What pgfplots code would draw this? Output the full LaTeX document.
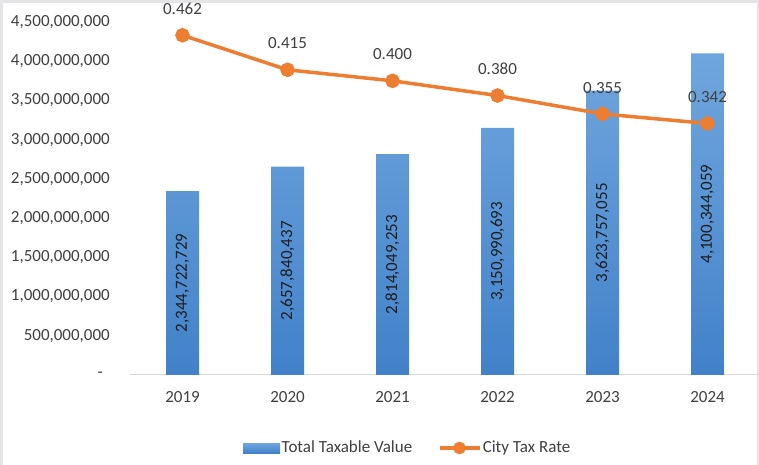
\documentclass[border=0pt]{standalone}
\usepackage{pgfplots}
\pgfplotsset{compat=1.18}
\usepackage{pgfplotstable}
\usepackage{fontspec}
\setmainfont{Carlito}
\definecolor{barTop}{RGB}{112,166,222}
\definecolor{barBot}{RGB}{66,129,201}
\definecolor{lineOr}{RGB}{237,125,49}
\definecolor{txt}{RGB}{64,64,64}
\definecolor{lbl}{RGB}{30,30,30}
\definecolor{axisgray}{RGB}{217,217,217}
\definecolor{framegray}{RGB}{228,228,230}

\pgfplotsset{
  lineleg/.style={legend image code/.code={\draw[lineOr, line width=3.5pt] (0pt,0pt) -- (40pt,0pt); \fill[lineOr] (20pt,0pt) circle (4.5pt);}},
  barleg/.style={legend image code/.code={\shade[draw=none, top color=barTop, bottom color=barBot] (0pt,-5pt) rectangle (37pt,5pt);}},
}

\pgfplotstableread{
x v lbl
0 2344722729 2,344,722,729
1 2657840437 2,657,840,437
2 2814049253 2,814,049,253
3 3150990693 3,150,990,693
4 3623757055 3,623,757,055
5 4100344059 4,100,344,059
}\barsdata

\pgfplotstableread{
x r
0 0.462
1 0.415
2 0.400
3 0.380
4 0.355
5 0.342
}\ratedata

\begin{document}
\begin{tikzpicture}
\fontsize{17}{20}\selectfont
\useasboundingbox (0pt,0pt) rectangle (759pt,465pt);
\fill[framegray] (0pt,0pt) rectangle (759pt,465pt);
\fill[white] (3pt,0pt) rectangle (757pt,462pt);
\begin{axis}[
  at={(130pt,90pt)}, anchor=south west,
  scale only axis, width=630pt, height=353pt,
  xmin=-0.5, xmax=5.5, ymin=0, ymax=4.5e9,
  xtick={0,1,2,3,4,5},
  xticklabels={2019,2020,2021,2022,2023,2024},
  ytick={0,5e8,1e9,1.5e9,2e9,2.5e9,3e9,3.5e9,4e9,4.5e9},
  yticklabels={{-\hspace*{7pt}},{500,000,000},{1,000,000,000},{1,500,000,000},{2,000,000,000},{2,500,000,000},{3,000,000,000},{3,500,000,000},{4,000,000,000},{4,500,000,000}},
  scaled y ticks=false,
  axis x line*=bottom, axis y line*=left,
  y axis line style={draw=none},
  x axis line style={draw=axisgray, line width=1pt, -},
  major tick length=0pt, tick style={draw=none},
  yticklabel style={anchor=east, inner sep=0pt, xshift=-20pt, text=txt},
  xticklabel style={anchor=north, inner sep=0pt, yshift=-16pt, text=txt},
  clip=false,
]
\addplot[ybar, bar width=33pt, bar shift=0pt, draw=none, top color=barTop, bottom color=barBot]
  table[x=x, y=v] {\barsdata};
\addplot[draw=none, mark=none, nodes near coords, point meta=explicit symbolic,
  every node near coord/.append style={rotate=90, anchor=center, inner sep=0pt, text=lbl}]
  table[x=x, y expr=\thisrow{v}/2, meta=lbl] {\barsdata};
\end{axis}
\begin{axis}[
  at={(130pt,90pt)}, anchor=south west,
  scale only axis, width=630pt, height=353pt,
  xmin=-0.5, xmax=5.5, ymin=0, ymax=0.48,
  hide axis, clip=false,
  legend columns=2,
  legend cell align=left,
  legend style={at={(0.4405,-0.2068)}, anchor=center, draw=none, fill=none,
    text=txt, inner sep=0pt, nodes={inner sep=1.5pt},
    /tikz/every even column/.append style={column sep=24pt}},
]
\addlegendimage{barleg}
\addlegendentry{Total Taxable Value}
\addplot[lineOr, line width=3.5pt, mark=*, mark size=5.5pt,
  mark options={solid, fill=lineOr, draw=none},
  lineleg,
  nodes near coords={\pgfmathprintnumber[fixed, fixed zerofill, precision=3, assume math mode=true]{\pgfplotspointmeta}},
  point meta=y,
  every node near coord/.append style={anchor=south, inner sep=0pt, yshift=19pt, text=txt}]
  table[x=x, y=r] {\ratedata};
\addlegendentry{City Tax Rate}
\end{axis}
\end{tikzpicture}
\end{document}
